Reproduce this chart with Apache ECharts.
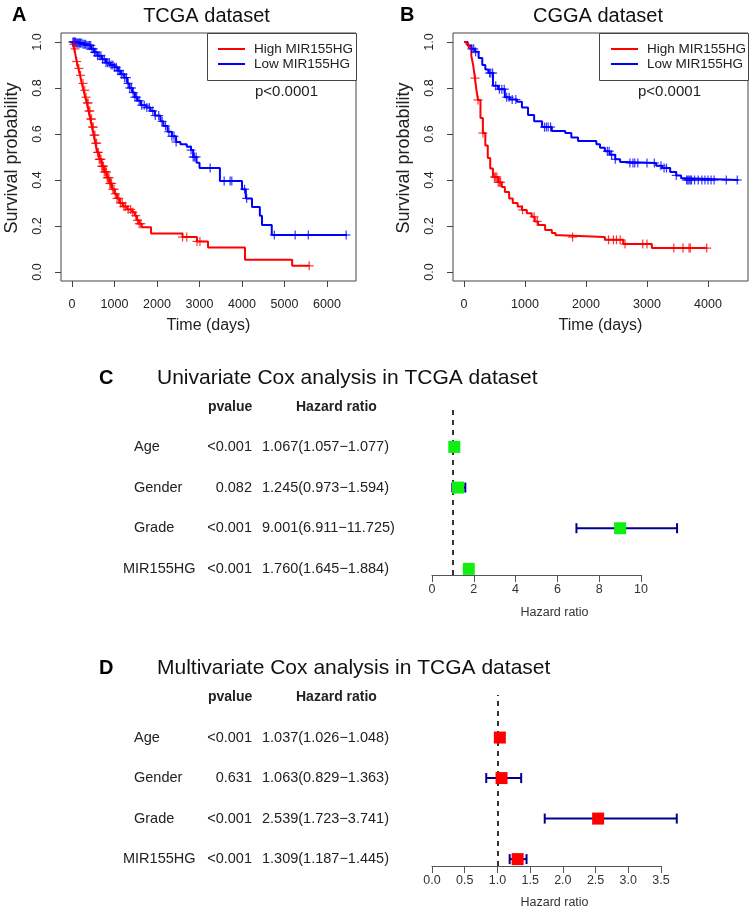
<!DOCTYPE html>
<html><head><meta charset="utf-8">
<script src="https://cdn.jsdelivr.net/npm/echarts@6/dist/echarts.min.js"></script>
<style>html,body{margin:0;padding:0;background:#fff}#c{width:750px;height:913px}</style>
</head><body><div id="c"></div>
<script>
// ---------- DATA ----------
const groupNames = ['High MIR155HG', 'Low MIR155HG'];
const kmTicksTCGA = [0, 1000, 2000, 3000, 4000, 5000, 6000];
const kmTicksCGGA = [0, 1000, 2000, 3000, 4000];
const survTicks = [0, 0.2, 0.4, 0.6, 0.8, 1.0];

// Kaplan-Meier steps [time (days), survival]
const tcgaHigh = [[0,1],[20,0.99],[50,0.97],[80,0.945],[110,0.915],[150,0.885],[190,0.855],[230,0.82],[270,0.79],[310,0.76],[350,0.735],[390,0.70],[430,0.665],[470,0.63],[510,0.595],[550,0.56],[590,0.52],[640,0.49],[700,0.46],[760,0.435],[820,0.41],[880,0.385],[940,0.36],[1000,0.34],[1060,0.32],[1120,0.30],[1200,0.285],[1300,0.272],[1420,0.26],[1480,0.245],[1530,0.225],[1580,0.21],[1640,0.195],[1860,0.168],[2600,0.152],[2940,0.133],[3200,0.107],[4070,0.053],[5180,0.027],[5580,0.027]];
const tcgaLow = [[0,1],[100,0.995],[250,0.99],[350,0.985],[450,0.97],[520,0.955],[600,0.94],[700,0.925],[800,0.91],[900,0.90],[1000,0.89],[1080,0.875],[1150,0.86],[1230,0.845],[1300,0.82],[1350,0.80],[1420,0.78],[1480,0.76],[1540,0.745],[1620,0.725],[1750,0.715],[1850,0.70],[1950,0.68],[2080,0.655],[2150,0.635],[2250,0.61],[2350,0.59],[2450,0.565],[2550,0.555],[2700,0.545],[2800,0.53],[2850,0.50],[2930,0.475],[3000,0.452],[3480,0.396],[4000,0.36],[4090,0.32],[4235,0.283],[4420,0.245],[4470,0.204],[4700,0.161],[6470,0.161]];
const cggaHigh = [[0,1],[40,0.99],[80,0.975],[120,0.94],[150,0.9],[180,0.843],[205,0.79],[230,0.748],[270,0.67],[310,0.604],[350,0.55],[390,0.496],[430,0.45],[475,0.413],[560,0.39],[620,0.37],[670,0.348],[740,0.32],[800,0.3],[880,0.285],[950,0.27],[1030,0.255],[1110,0.24],[1160,0.22],[1215,0.204],[1330,0.183],[1440,0.17],[1500,0.16],[1570,0.152],[2310,0.14],[2610,0.122],[3080,0.104],[3980,0.104]];
const cggaLow = [[0,1],[60,0.985],[120,0.97],[180,0.957],[240,0.93],[300,0.9],[350,0.88],[400,0.865],[475,0.81],[560,0.795],[670,0.76],[750,0.75],[870,0.74],[950,0.715],[1050,0.683],[1150,0.655],[1280,0.63],[1440,0.613],[1660,0.604],[1760,0.585],[1870,0.57],[2170,0.555],[2230,0.54],[2310,0.525],[2390,0.51],[2480,0.49],[2560,0.478],[2650,0.474],[3150,0.462],[3250,0.452],[3380,0.435],[3480,0.42],[3560,0.408],[3640,0.40],[4500,0.40]];

// censored times (days)
const tcgaHighCensor = [40,70,110,160,200,260,300,330,360,380,400,420,440,460,480,500,520,540,560,580,600,620,640,660,680,700,720,740,760,790,810,830,850,870,890,910,930,960,990,1020,1060,1100,1140,1180,1220,1260,1320,1380,1430,1500,1540,1580,1620,2600,2700,2940,3010,5580];
const tcgaLowCensor = [20,40,60,80,100,120,140,160,180,200,230,260,290,320,350,380,410,440,470,500,530,560,600,640,680,720,760,800,840,880,920,960,1000,1040,1080,1120,1160,1200,1240,1280,1320,1360,1400,1440,1480,1520,1580,1640,1700,1760,1820,1900,1960,2040,2120,2200,2280,2350,2400,2450,2800,2850,2880,2920,3250,3580,3720,3760,4060,4110,4760,5250,5560,6450];
const cggaHighCensor = [180,230,310,500,520,540,560,580,600,960,1150,1200,1780,2370,2450,2500,2560,2640,2930,3000,3440,3590,3690,3710,3980];
const cggaLowCensor = [130,160,190,420,440,470,520,580,620,660,700,740,790,850,1320,1350,1380,1420,2350,2380,2420,2480,2720,2770,2800,2850,3000,3120,3230,3280,3320,3480,3650,3670,3690,3710,3730,3780,3840,3900,3950,4000,4050,4100,4300,4480];

// Cox analyses
const coxVars = ['Age', 'Gender', 'Grade', 'MIR155HG'];
const uniP = ['<0.001', '0.082', '<0.001', '<0.001'];
const uniHR = [1.067, 1.245, 9.001, 1.760];
const uniLow = [1.057, 0.973, 6.911, 1.645];
const uniHigh = [1.077, 1.594, 11.725, 1.884];
const multiP = ['<0.001', '0.631', '<0.001', '<0.001'];
const multiHR = [1.037, 1.063, 2.539, 1.309];
const multiLow = [1.026, 0.829, 1.723, 1.187];
const multiHigh = [1.048, 1.363, 3.741, 1.445];
const uniTicks = [0, 2, 4, 6, 8, 10];
const multiTicks = [0, 0.5, 1.0, 1.5, 2.0, 2.5, 3.0, 3.5];

// ---------- CHART ----------
const FONT = '"Liberation Sans", Arial, Helvetica, sans-serif';
const RED = '#ff0000', BLUE = '#0000ff', NAVY = '#00008b', GREEN = '#11ee11', SQRED = '#ff0000';
const chart = echarts.init(document.getElementById('c'), null, {renderer: 'canvas'});

function survAt(steps, t) {
  let s = steps[0][1];
  for (const p of steps) { if (p[0] <= t) s = p[1]; else break; }
  return s;
}
function censorData(steps, times) { return times.map(t => [t, survAt(steps, t)]); }

function kmXAxis(gi, min, max, ticks) {
  return {gridIndex: gi, type: 'value', min, max,
    axisLine: {show: false, onZero: false}, splitLine: {show: false},
    axisTick: {show: true, customValues: ticks, length: 6, lineStyle: {color: '#444'}},
    axisLabel: {customValues: ticks, margin: 17, fontSize: 12.5, color: '#222', fontFamily: FONT,
      formatter: v => String(v)}};
}
function kmYAxis(gi) {
  return {gridIndex: gi, type: 'value', min: -0.039, max: 1.039,
    axisLine: {show: false, onZero: false}, splitLine: {show: false},
    axisTick: {show: true, customValues: survTicks, length: 6, lineStyle: {color: '#444'}},
    axisLabel: {customValues: survTicks, rotate: 90, margin: 17, fontSize: 12.5, color: '#222', fontFamily: FONT,
      formatter: v => v.toFixed(1)}};
}
function fpXAxis(gi, max, ticks) {
  return {gridIndex: gi, type: 'value', min: 0, max,
    axisLine: {show: true, onZero: false, lineStyle: {color: '#555', width: 1}}, splitLine: {show: false},
    axisTick: {show: true, customValues: ticks, length: 7, lineStyle: {color: '#555'}},
    axisLabel: {customValues: ticks, margin: 8, fontSize: 12.5, color: '#333', fontFamily: FONT,
      formatter: v => (max < 5 ? v.toFixed(1) : String(v))}};
}
function fpYAxis(gi, min, max) {
  return {gridIndex: gi, type: 'value', min, max, show: false, axisLine: {onZero: false}};
}

function kmLine(name, data, color, ai) {
  return {type: 'line', name, xAxisIndex: ai, yAxisIndex: ai, data, step: 'end', symbol: 'none',
    lineStyle: {color, width: 2}, z: 3, silent: true};
}
function censorSeries(data, color, ai) {
  return {type: 'custom', xAxisIndex: ai, yAxisIndex: ai, data, z: 4, silent: true,
    renderItem: (params, api) => {
      const p = api.coord([api.value(0), api.value(1)]);
      const st = {stroke: color, lineWidth: 1.2, opacity: 0.8};
      return {type: 'group', children: [
        {type: 'line', shape: {x1: p[0] - 4.5, y1: p[1], x2: p[0] + 4.5, y2: p[1]}, style: st},
        {type: 'line', shape: {x1: p[0], y1: p[1] - 4.5, x2: p[0], y2: p[1] + 4.5}, style: st}
      ]};
    }};
}
function rowVal(i) { return coxVars.length - i; }
function errSeries(low, high, ai) {
  return {type: 'custom', xAxisIndex: ai, yAxisIndex: ai, z: 2, silent: true, clip: false,
    data: low.map((l, i) => [l, high[i], rowVal(i)]),
    encode: {x: [0, 1], y: 2},
    renderItem: (params, api) => {
      const a = api.coord([api.value(0), api.value(2)]);
      const b = api.coord([api.value(1), api.value(2)]);
      const st = {stroke: NAVY, lineWidth: 2};
      return {type: 'group', children: [
        {type: 'line', shape: {x1: a[0], y1: a[1], x2: b[0], y2: b[1]}, style: st},
        {type: 'line', shape: {x1: a[0], y1: a[1] - 5, x2: a[0], y2: a[1] + 5}, style: st},
        {type: 'line', shape: {x1: b[0], y1: b[1] - 5, x2: b[0], y2: b[1] + 5}, style: st}
      ]};
    },
    markLine: {silent: true, z: 1, symbol: 'none', label: {show: false},
      lineStyle: {color: '#000', type: [5, 5], width: 1.6}, data: [{xAxis: 1}]}};
}
function sqSeries(hr, color, ai) {
  return {type: 'scatter', xAxisIndex: ai, yAxisIndex: ai, z: 6, silent: true,
    symbol: 'rect', symbolSize: 12, itemStyle: {color, opacity: 1},
    data: hr.map((h, i) => [h, rowVal(i)])};
}

const option = {
  animation: false,
  backgroundColor: '#fff',
  textStyle: {fontFamily: FONT},
  grid: [
    {left: 61, top: 33, width: 295, height: 248, show: true, borderColor: '#444', borderWidth: 1, backgroundColor: 'transparent'},
    {left: 453, top: 33, width: 295, height: 248, show: true, borderColor: '#444', borderWidth: 1, backgroundColor: 'transparent'},
    {left: 432, top: 405, width: 209, height: 170},
    {left: 432, top: 695, width: 229, height: 171}
  ],
  xAxis: [
    kmXAxis(0, -259, 6682, kmTicksTCGA),
    kmXAxis(1, -180, 4656, kmTicksCGGA),
    fpXAxis(2, 10, uniTicks),
    fpXAxis(3, 3.5, multiTicks)
  ],
  yAxis: [kmYAxis(0), kmYAxis(1), fpYAxis(2, 0.85, 5.03), fpYAxis(3, 0.83, 5.05)],
  series: [
    kmLine(groupNames[1], tcgaLow, BLUE, 0),
    kmLine(groupNames[0], tcgaHigh, RED, 0),
    censorSeries(censorData(tcgaLow, tcgaLowCensor), BLUE, 0),
    censorSeries(censorData(tcgaHigh, tcgaHighCensor), RED, 0),
    kmLine(groupNames[1], cggaLow, BLUE, 1),
    kmLine(groupNames[0], cggaHigh, RED, 1),
    censorSeries(censorData(cggaLow, cggaLowCensor), BLUE, 1),
    censorSeries(censorData(cggaHigh, cggaHighCensor), RED, 1),
    errSeries(uniLow, uniHigh, 2),
    sqSeries(uniHR, GREEN, 2),
    errSeries(multiLow, multiHigh, 3),
    sqSeries(multiHR, SQRED, 3)
  ]
};
chart.setOption(option);

// ---------- TEXT (titles, legends, tables) ----------
function txt(text, x, y, size, opts) {
  opts = opts || {};
  return {type: 'text', x, y, rotation: opts.rotation || 0, silent: true, z: 10,
    style: {text, fill: opts.color || '#111', font: (opts.bold ? 'bold ' : '') + size + 'px ' + FONT,
      align: opts.align || 'left', verticalAlign: 'middle', textAlign: opts.align || 'left', textVerticalAlign: 'middle'}};
}
const g = [];
// panel A/B
[[0, 'A', 'TCGA dataset', 12, 206.5, 207, 218, 254, 255, 12, 208.5],
 [1, 'B', 'CGGA dataset', 400, 598, 599, 611, 647, 638, 404, 600.5]].forEach(p => {
  g.push(txt(p[1], p[3], 15, 20, {bold: true, color: '#000'}));
  g.push(txt(p[2], p[4], 16, 20, {align: 'center', color: '#111'}));
  g.push({type: 'rect', silent: true, z: 10, shape: {x: p[5] + 0.5, y: 33.5, width: 356 + (p[0] ? 392 : 0) - p[5], height: 47},
    style: {fill: '#fff', stroke: '#444', lineWidth: 1}});
  g.push({type: 'line', silent: true, z: 11, shape: {x1: p[6], y1: 49, x2: p[6] + 27, y2: 49}, style: {stroke: RED, lineWidth: 2}});
  g.push({type: 'line', silent: true, z: 11, shape: {x1: p[6], y1: 64, x2: p[6] + 27, y2: 64}, style: {stroke: BLUE, lineWidth: 2}});
  g.push(txt(groupNames[0], p[7], 49, 13.5, {color: '#222'}));
  g.push(txt(groupNames[1], p[7], 64, 13.5, {color: '#222'}));
  g.push(txt('p<0.0001', p[8], 92, 15, {color: '#222'}));
  g.push(txt('Survival probability', p[9], 158, 18, {align: 'center', rotation: Math.PI / 2, color: '#222'}));
  g.push(txt('Time (days)', p[10], 326, 16, {align: 'center', color: '#222'}));
});
// panels C/D
[[2, 'C', 'Univariate Cox analysis in TCGA dataset', uniP, uniHR, uniLow, uniHigh, 378, 407, 613],
 [3, 'D', 'Multivariate Cox analysis in TCGA dataset', multiP, multiHR, multiLow, multiHigh, 668, 697, 903]].forEach(p => {
  const gi = p[0];
  g.push(txt(p[1], 99, p[7], 20, {bold: true, color: '#000'}));
  g.push(txt(p[2], 157, p[7], 21, {color: '#111'}));
  g.push(txt('pvalue', 208, p[8], 14, {bold: true, color: '#222'}));
  g.push(txt('Hazard ratio', 296, p[8], 14, {bold: true, color: '#222'}));
  g.push(txt('Hazard ratio', 554.5, p[9], 12.5, {align: 'center', color: '#333'}));
  coxVars.forEach((name, i) => {
    const y = chart.convertToPixel({gridIndex: gi}, [1, rowVal(i)])[1];
    const hrText = p[4][i].toFixed(3) + '(' + p[5][i].toFixed(3) + '\u2212' + p[6][i].toFixed(3) + ')';
    g.push(txt(name, name.length > 6 ? 123 : 134, y, 14.5, {color: '#222'}));
    g.push(txt(p[3][i], 252, y, 14.5, {align: 'right', color: '#222'}));
    g.push(txt(hrText, 262, y, 14.5, {color: '#222'}));
  });
});
chart.setOption({graphic: g});
</script></body></html>
